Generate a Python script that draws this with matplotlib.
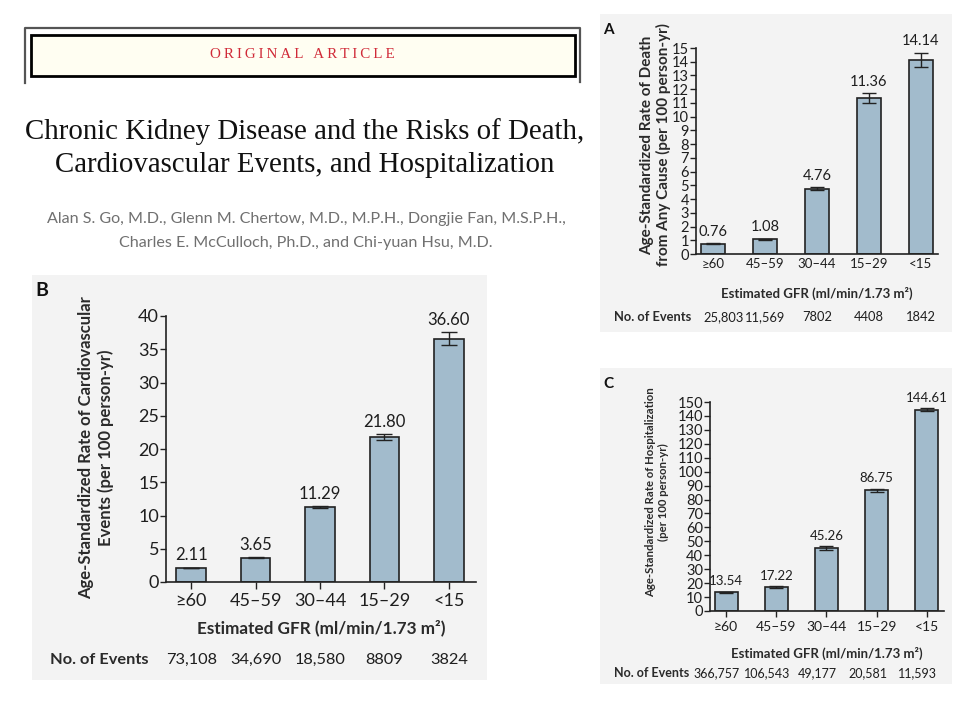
import matplotlib
matplotlib.use('Agg')
import matplotlib.pyplot as plt
from matplotlib.patches import Rectangle
from matplotlib.lines import Line2D
from matplotlib.transforms import blended_transform_factory

W, H = 960, 720

# ---- data ----
gfr_cats = ['≥60', '45–59', '30–44', '15–29', '<15']

death_rate = [0.76, 1.08, 4.76, 11.36, 14.14]
death_err = [0.03, 0.04, 0.10, 0.36, 0.53]
death_events = ['25,803', '11,569', '7802', '4408', '1842']

cv_rate = [2.11, 3.65, 11.29, 21.80, 36.60]
cv_err = [0.07, 0.10, 0.16, 0.50, 0.95]
cv_events = ['73,108', '34,690', '18,580', '8809', '3824']

hosp_rate = [13.54, 17.22, 45.26, 86.75, 144.61]
hosp_err = [0.4, 0.5, 1.3, 1.1, 1.3]
hosp_events = ['366,757', '106,543', '49,177', '20,581', '11,593']

BAR = '#a2bbcc'
EDGE = '#222222'
PANEL_BG = '#f3f3f3'
TXT = '#1e1e1e'
SANS = ['Lato', 'DejaVu Sans']

plt.rcParams['font.family'] = SANS


def fx(x):
    return x / W


def fy(y):
    # pixel row (from top) -> figure fraction
    return 1 - y / H


fig = plt.figure(figsize=(9.6, 7.2), dpi=100)
fig.patch.set_facecolor('white')


# ---- header ----
def header():
    # bracket around the banner
    fig.add_artist(Line2D([fx(25), fx(25), fx(580), fx(580)],
                          [fy(83), fy(28), fy(28), fy(82)],
                          color='#555555', lw=1.6, transform=fig.transFigure))
    fig.add_artist(Rectangle((fx(31), fy(76)), fx(575) - fx(31), fy(35) - fy(76),
                             facecolor='#fffef2', edgecolor='black', lw=2.0,
                             transform=fig.transFigure))
    banner = '\u2009'.join('ORIGINAL ARTICLE')
    fig.text(fx(302), fy(55), banner, color='#d02a38',
             family='Liberation Serif', fontsize=10.8, ha='center', va='center')
    fig.text(fx(305), fy(132), 'Chronic Kidney Disease and the Risks of Death,',
             family='Liberation Serif', fontsize=20.8, ha='center', va='center', color='#111111')
    fig.text(fx(305), fy(165), 'Cardiovascular Events, and Hospitalization',
             family='Liberation Serif', fontsize=20.8, ha='center', va='center', color='#111111')
    fig.text(fx(306), fy(219),
             'Alan S. Go, M.D., Glenn M. Chertow, M.D., M.P.H., Dongjie Fan, M.S.P.H.,',
             fontsize=11.6, ha='center', va='center', color='#707070')
    fig.text(fx(306), fy(243),
             'Charles E. McCulloch, Ph.D., and Chi-yuan Hsu, M.D.',
             fontsize=11.6, ha='center', va='center', color='#707070')


def panel(bg, letter, axbox, xlim, rates, errs, events, ylim, yticks, ylines,
          ylab_x, ylab_y, xlab_y, ev_y, ev_x0, sz, xtick_len, lsp=1.15,
          ev_shift=0, first_nudge=0):
    # sz = (ytick, xtick, value, ylabel, xlabel, events, letter, cap)
    x0, y0, x1, y1 = bg
    fig.add_artist(Rectangle((fx(x0), fy(y1)), fx(x1) - fx(x0), fy(y0) - fy(y1),
                             facecolor=PANEL_BG, edgecolor='none',
                             transform=fig.transFigure, zorder=0))
    fig.text(fx(x0 + 3), fy(y0 + 16), letter, fontsize=sz[6], fontweight='bold',
             ha='left', va='center', color='#111111')

    l, t, r, b = axbox
    ax = fig.add_axes([fx(l), fy(b), fx(r) - fx(l), fy(t) - fy(b)])
    ax.patch.set_alpha(0)
    xs = list(range(len(rates)))
    ax.bar(xs, rates, width=0.46, color=BAR, edgecolor=EDGE, linewidth=1.2, zorder=2)
    ax.errorbar(xs, rates, yerr=errs, fmt='none', ecolor=EDGE, elinewidth=1.0,
                capsize=sz[7], capthick=1.0, zorder=3)
    for x, v, e in zip(xs, rates, errs):
        ax.annotate(f'{v:.2f}', (x, v + e), xytext=(0, 3), textcoords='offset points',
                    ha='center', va='bottom', fontsize=sz[2], color=TXT)
    ax.set_xlim(*xlim)
    ax.set_ylim(*ylim)
    ax.set_yticks(yticks)
    ax.set_xticks(xs)
    ax.set_xticklabels(gfr_cats)
    for s in ['top', 'right']:
        ax.spines[s].set_visible(False)
    for s in ['left', 'bottom']:
        ax.spines[s].set_color(EDGE)
        ax.spines[s].set_linewidth(1.2)
    ax.tick_params(axis='y', direction='out', length=4, width=1.0, color=EDGE,
                   labelsize=sz[0], labelcolor=TXT, pad=1)
    ax.tick_params(axis='x', direction='out', length=xtick_len, width=1.0, color=EDGE,
                   labelsize=sz[1], labelcolor=TXT, pad=3)

    fig.text(fx(ylab_x), fy(ylab_y), '\n'.join(ylines), rotation=90, ha='center',
             va='center', fontsize=sz[3], fontweight='bold', color='#2a2a2a',
             multialignment='center', linespacing=lsp)
    fig.text(fx((l + r) / 2), fy(xlab_y), 'Estimated GFR (ml/min/1.73 m²)',
             ha='center', va='center', fontsize=sz[4], fontweight='bold', color='#2a2a2a')

    tr = blended_transform_factory(ax.transData, fig.transFigure)
    fig.text(fx(ev_x0), fy(ev_y), 'No. of Events', ha='left', va='center',
             fontsize=sz[5], fontweight='bold', color='#2a2a2a')
    for i, (x, ev) in enumerate(zip(xs, events)):
        nudge = first_nudge if i == 0 else 0
        ax.text(x + ev_shift + nudge, fy(ev_y), ev, transform=tr, ha='center',
                va='center', fontsize=sz[5], color=TXT, clip_on=False)
    return ax


header()

# A: death from any cause
panel(bg=(600, 14, 952, 332), letter='A', axbox=(696, 48, 938, 254),
      xlim=(-0.33, 4.33), rates=death_rate, errs=death_err, events=death_events,
      ylim=(0, 15), yticks=range(0, 16),
      ylines=['Age-Standardized Rate of Death', 'from Any Cause (per 100 person-yr)'],
      ylab_x=656, ylab_y=145, xlab_y=293, ev_y=317, ev_x0=614,
      sz=(10.5, 9.5, 10.5, 11, 9.5, 9.3, 11, 5), xtick_len=0, first_nudge=0.2)

# B: cardiovascular events
panel(bg=(32, 275, 487, 680), letter='B', axbox=(166, 316, 476, 582),
      xlim=(-0.39, 4.42), rates=cv_rate, errs=cv_err, events=cv_events,
      ylim=(0, 40), yticks=range(0, 41, 5),
      ylines=['Age-Standardized Rate of Cardiovascular', 'Events (per 100 person-yr)'],
      ylab_x=96, ylab_y=448, xlab_y=628, ev_y=660, ev_x0=50,
      sz=(13, 13, 12, 12, 12.3, 11.8, 14, 6), xtick_len=5, lsp=1.3)

# C: hospitalization
panel(bg=(600, 368, 952, 684), letter='C', axbox=(710, 402, 944, 611),
      xlim=(-0.32, 4.34), rates=hosp_rate, errs=hosp_err, events=hosp_events,
      ylim=(0, 150), yticks=range(0, 151, 10),
      ylines=['Age-Standardized Rate of Hospitalization', '(per 100 person-yr)'],
      ylab_x=657, ylab_y=492, xlab_y=653, ev_y=673, ev_x0=614,
      sz=(10.5, 10, 9.5, 8.2, 9.5, 9, 11, 5), xtick_len=4, ev_shift=-0.18)

fig.savefig('out.png', dpi=100)
